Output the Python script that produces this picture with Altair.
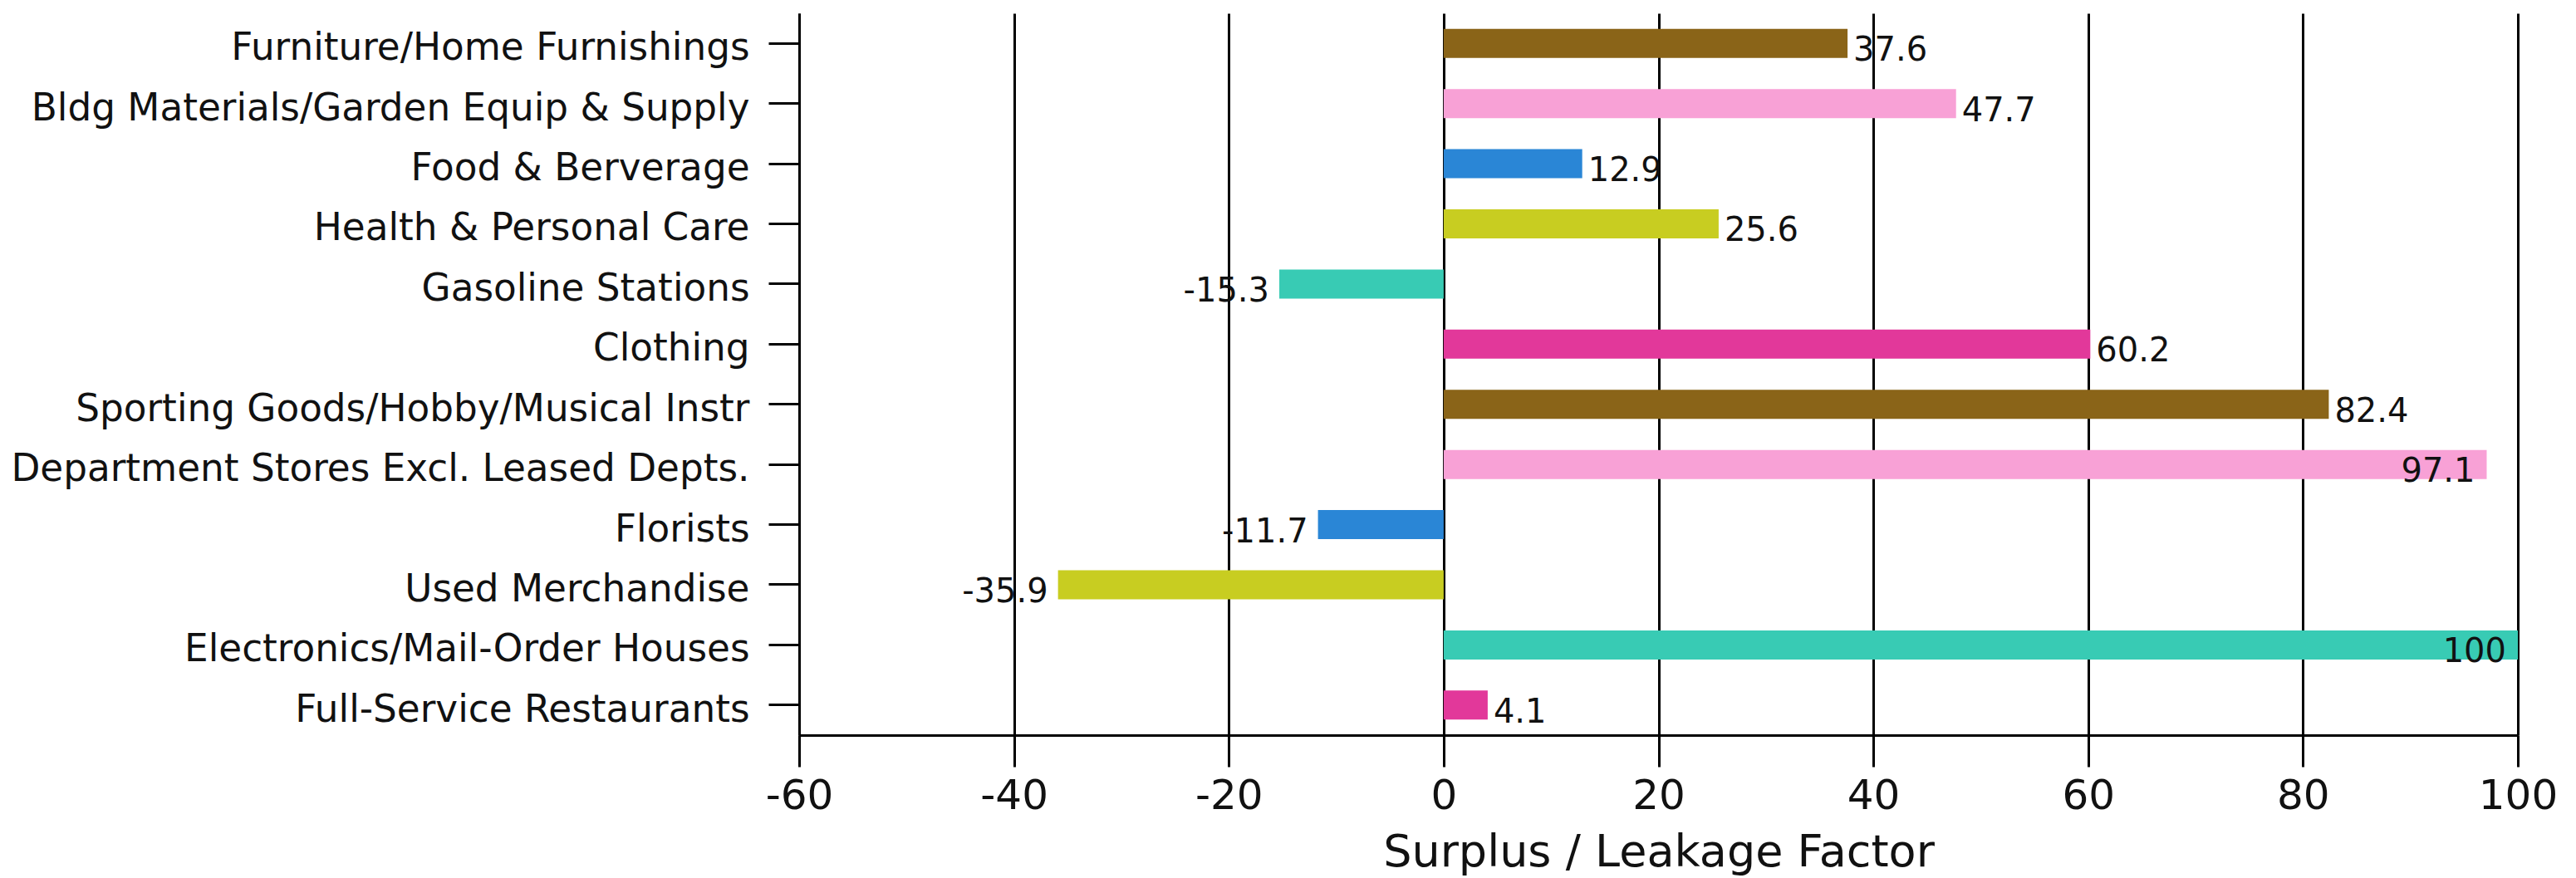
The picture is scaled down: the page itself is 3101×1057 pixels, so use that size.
import altair as alt
import pandas as pd

categories = [
    "Furniture/Home Furnishings",
    "Bldg Materials/Garden Equip & Supply",
    "Food & Berverage",
    "Health & Personal Care",
    "Gasoline Stations",
    "Clothing",
    "Sporting Goods/Hobby/Musical Instr",
    "Department Stores Excl. Leased Depts.",
    "Florists",
    "Used Merchandise",
    "Electronics/Mail-Order Houses",
    "Full-Service Restaurants",
]
values = [37.6, 47.7, 12.9, 25.6, -15.3, 60.2, 82.4, 97.1, -11.7, -35.9, 100, 4.1]
colors = [
    "#8A6418", "#F8A1D6", "#2A86D6", "#C8CD21", "#38CBB4", "#E2389A",
    "#8A6418", "#F8A1D6", "#2A86D6", "#C8CD21", "#38CBB4", "#E2389A",
]
x_ticks = [-60, -40, -20, 0, 20, 40, 60, 80, 100]

df = pd.DataFrame({"category": categories, "value": values})

FONT = "DejaVu Sans"

y_enc = alt.Y(
    "category:N",
    sort=categories,
    scale=alt.Scale(paddingInner=0, paddingOuter=0),
    axis=alt.Axis(
        title=None,
        domainColor="black",
        domainWidth=3,
        tickColor="black",
        tickWidth=3,
        tickSize=37,
        labelPadding=23,
        labelOffset=6,
        labelFont=FONT,
        labelFontSize=45.3,
        labelColor="#111111",
        labelLimit=2000,
        grid=False,
    ),
)

x_enc = alt.X(
    "value:Q",
    scale=alt.Scale(domain=[-60, 100], nice=False, zero=False),
    axis=alt.Axis(
        values=x_ticks,
        labelExpr="toString(datum.value)",
        title="Surplus / Leakage Factor",
        grid=True,
        gridColor="black",
        gridWidth=3,
        gridOpacity=1,
        domainColor="black",
        domainWidth=3,
        tickColor="black",
        tickWidth=3,
        tickSize=38,
        labelFont=FONT,
        labelFontSize=50,
        labelColor="#111111",
        labelPadding=10,
        labelFlush=False,
        titleFont=FONT,
        titleFontSize=54,
        titleFontWeight="normal",
        titleColor="#111111",
        titleBaseline="alphabetic",
        titleY=157,
    ),
)

base = alt.Chart(df).transform_calculate(label="toString(datum.value)")

bars = base.mark_bar(size=35).encode(
    y=y_enc,
    x=x_enc,
    color=alt.Color("category:N", scale=alt.Scale(domain=categories, range=colors), legend=None),
)

txt_common = dict(font=FONT, fontSize=40, color="#111111", baseline="alphabetic", dy=21)

lab_pos = base.transform_filter("datum.value >= 0 && datum.value < 90").mark_text(
    align="left", dx=7, **txt_common
).encode(y=alt.Y("category:N", sort=categories), x="value:Q", text="label:N")

lab_in = base.transform_filter("datum.value >= 90").mark_text(
    align="right", dx=-14, **txt_common
).encode(y=alt.Y("category:N", sort=categories), x="value:Q", text="label:N")

lab_neg = base.transform_filter("datum.value < 0").mark_text(
    align="right", dx=-12, **txt_common
).encode(y=alt.Y("category:N", sort=categories), x="value:Q", text="label:N")

chart = (
    alt.layer(bars, lab_pos, lab_in, lab_neg)
    .properties(
        width=2069,
        height=869,
        padding={"left": 962, "top": 16, "right": 70, "bottom": 172},
        autosize="none",
        background="white",
    )
    .configure_view(stroke=None)
)

chart.save("out.html", embed_options={"renderer": "svg", "actions": False})
